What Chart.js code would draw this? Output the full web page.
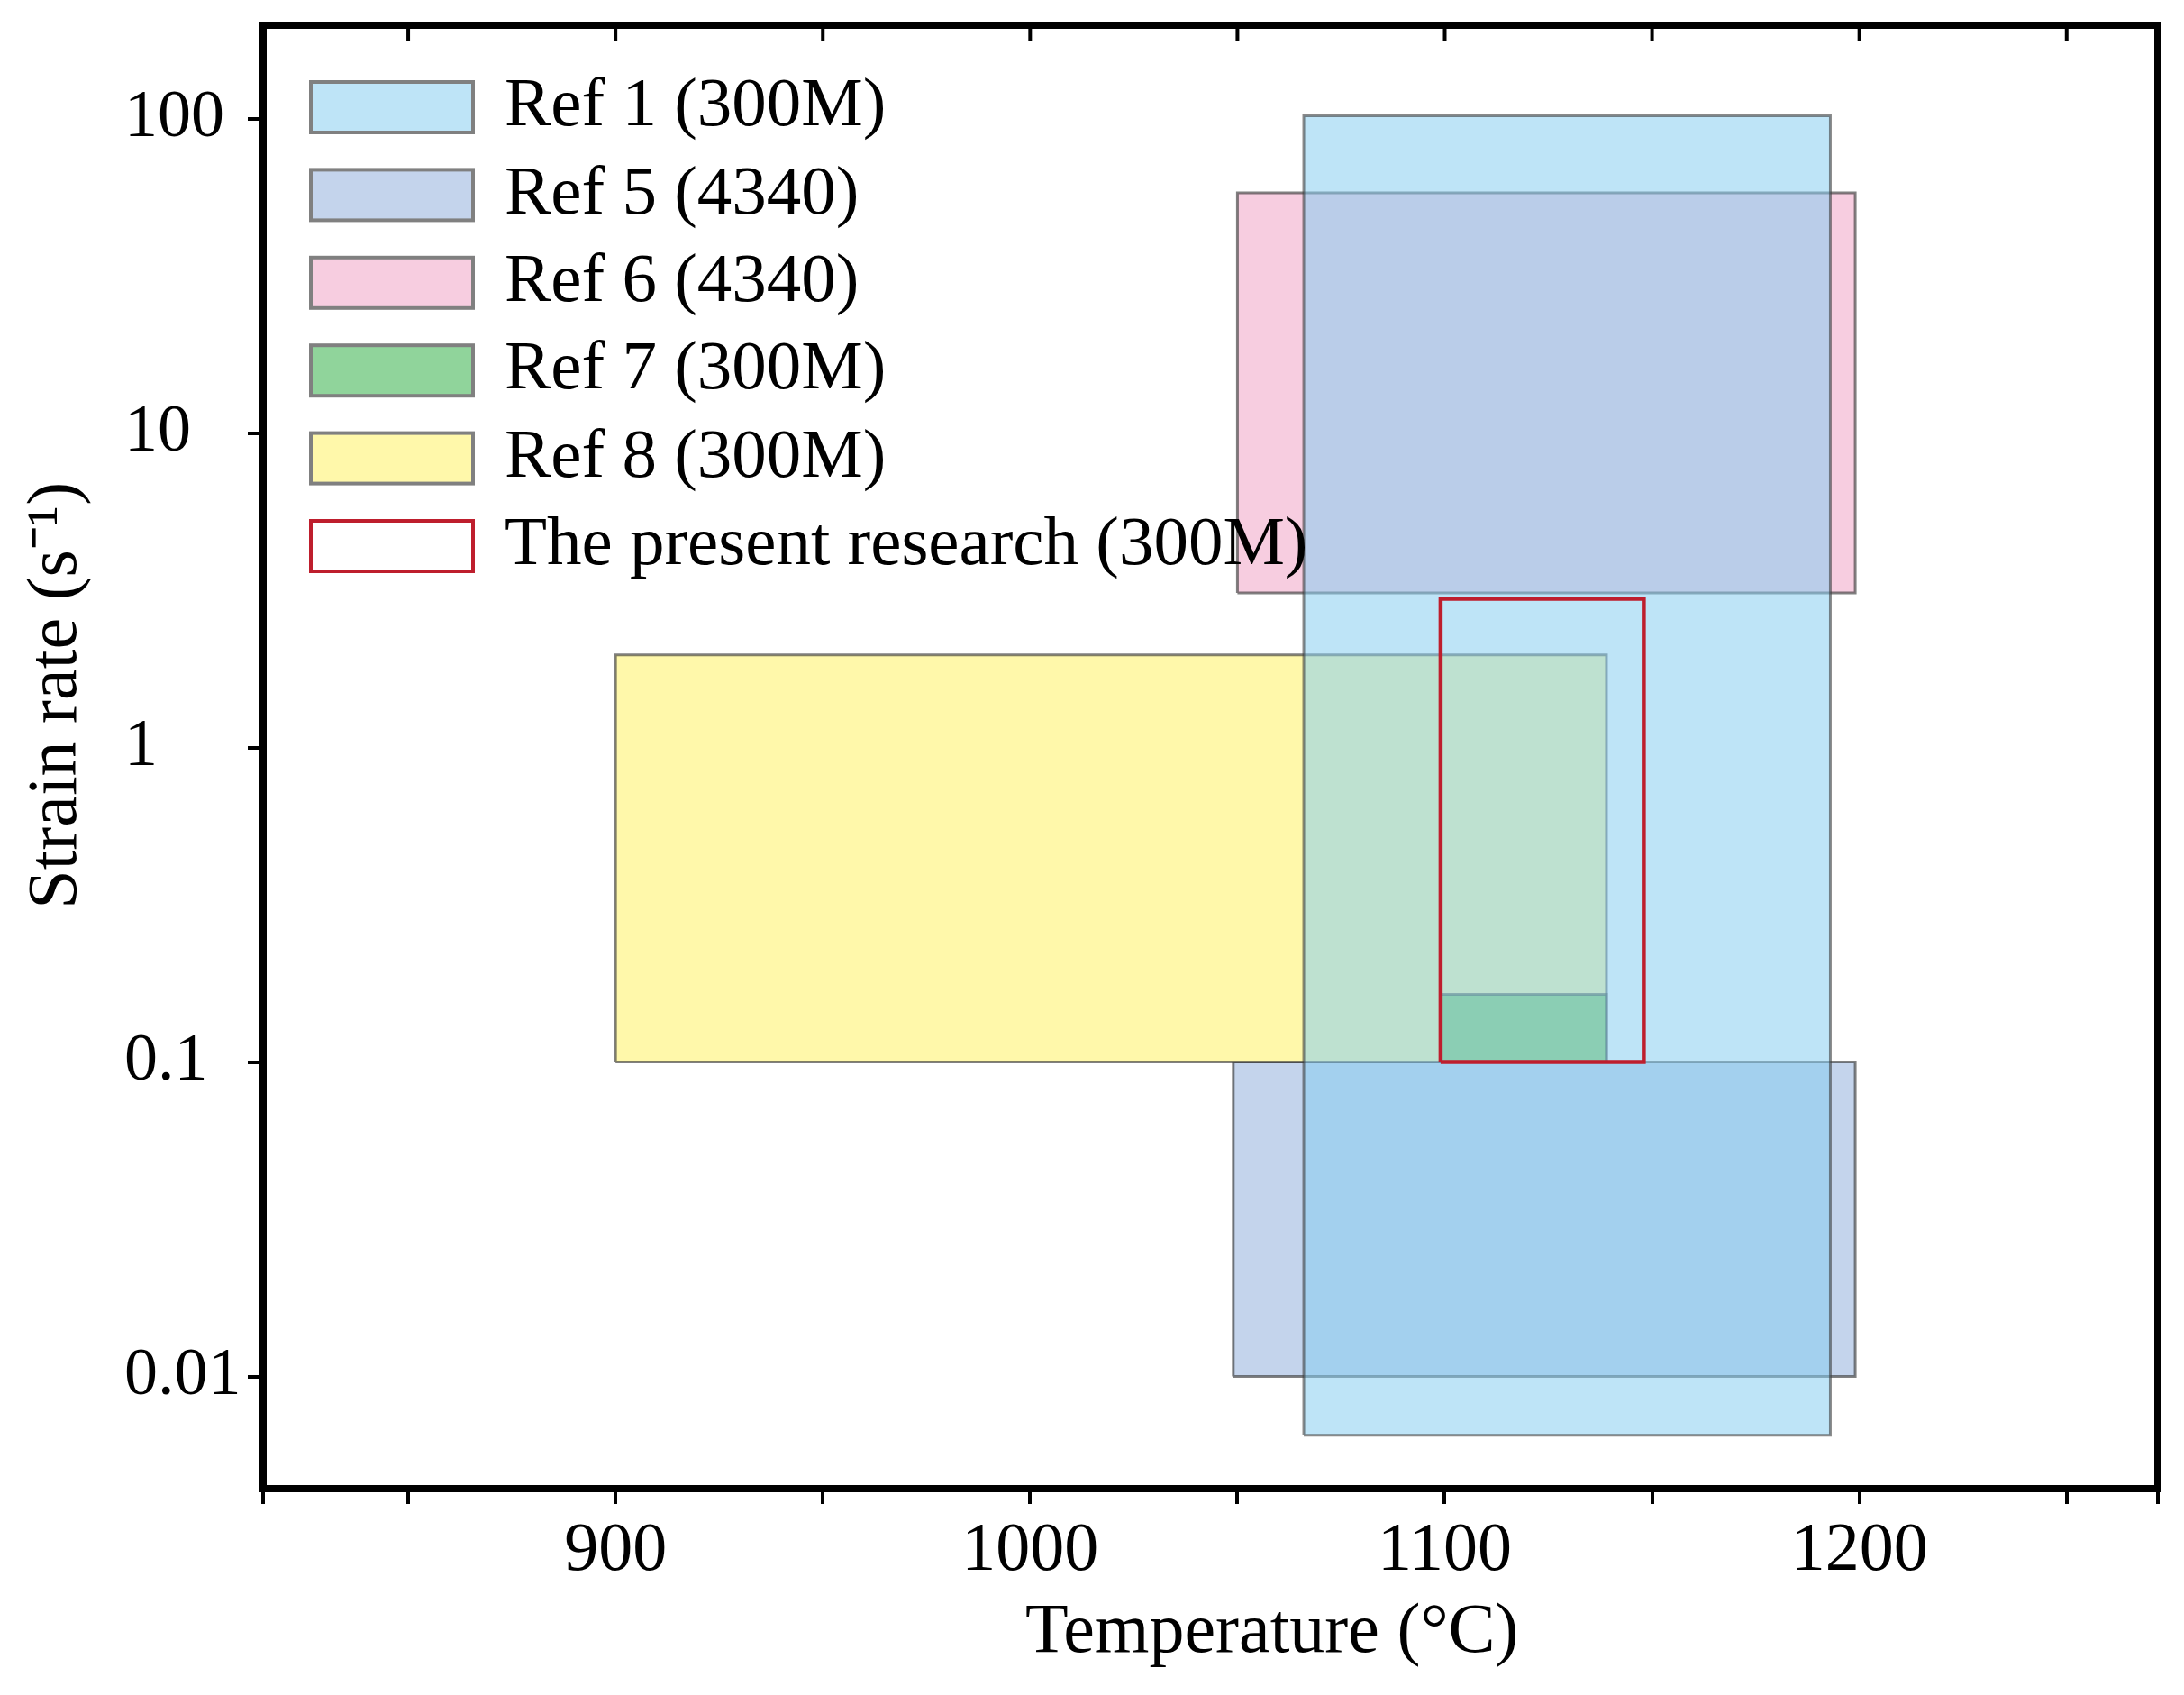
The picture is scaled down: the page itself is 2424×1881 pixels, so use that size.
<!DOCTYPE html>
<html>
<head>
<meta charset="utf-8">
<title>Processing windows: strain rate vs temperature</title>
<style>
    html, body {
        margin: 0;
        padding: 0;
        background: #fff;
        overflow: hidden;
    }
    #wrap {
        width: 2424px;
        height: 1881px;
    }
</style>
<script src="https://cdn.jsdelivr.net/npm/chart.js@4"></script>
</head>
<body>
<div id="wrap"><canvas id="rangeChart"></canvas></div>
<script>
    // Processing windows (temperature in °C, strain rate in 1/s)
    const seriesNames = ['Ref 1 (300M)', 'Ref 5 (4340)', 'Ref 6 (4340)', 'Ref 7 (300M)', 'Ref 8 (300M)', 'The present research (300M)'];
    const tempLow  = [1066, 1049, 1050, 1099, 900, 1099];
    const tempHigh = [1193, 1199, 1199, 1139, 1139, 1148];
    const rateLow  = [0.0065, 0.01, 3.1, 0.1, 0.1, 0.1];
    const rateHigh = [102, 0.1, 58, 0.164, 1.97, 2.97];

    const tempTicks  = [850, 900, 950, 1000, 1050, 1100, 1150, 1200, 1250];
    const tempLabels = [900, 1000, 1100, 1200];
    const rateTicks  = [0.01, 0.1, 1, 10, 100];
    const rateLabels = ['0.01', '0.1', '1', '10', '100'];

    // styles (kept apart from the data)
    const fills = ['rgba(135,205,240,0.54)', 'rgb(196,212,236)', 'rgb(247,205,224)',
                   'rgba(14,162,38,0.46)', 'rgb(255,248,170)', 'rgba(255,255,255,0)'];
    const edges = ['rgba(60,60,60,0.6)', 'rgba(60,60,60,0.65)', 'rgba(60,60,60,0.65)',
                   'rgba(60,60,60,0.6)', 'rgba(60,60,60,0.65)', '#be1e2d'];
    const layer = [2, 6, 5, 3, 4, 1];   // higher = drawn first
    const serif = '"Liberation Serif", "Times New Roman", serif';

    const datasets = seriesNames.map((name, i) => ({
        label: name,
        data: [
            {x: tempLow[i],  y: rateLow[i]},
            {x: tempHigh[i], y: rateLow[i]},
            {x: tempHigh[i], y: rateHigh[i]},
            {x: tempLow[i],  y: rateHigh[i]},
            {x: tempLow[i],  y: rateLow[i]}
        ],
        fill: i === 5 ? false : 'shape',
        backgroundColor: fills[i],
        borderColor: edges[i],
        borderWidth: i === 5 ? 4.5 : 3,
        borderJoinStyle: 'miter',
        pointRadius: 0,
        pointHoverRadius: 0,
        tension: 0,
        order: layer[i]
    }));

    // closed frame + inward ticks on the top edge
    const frame = {
        id: 'frame',
        afterDatasetsDraw(chart) {
            const {ctx, chartArea: a} = chart;
            const xs = chart.scales.x;
            ctx.save();
            ctx.strokeStyle = '#000';
            ctx.lineWidth = 8;
            ctx.strokeRect(a.left, a.top, a.right - a.left, a.bottom - a.top);
            ctx.lineWidth = 4;
            tempTicks.forEach(v => {
                const px = xs.getPixelForValue(v);
                ctx.beginPath();
                ctx.moveTo(px, a.top);
                ctx.lineTo(px, a.top + 18);
                ctx.stroke();
            });
            ctx.restore();
        }
    };

    // legend drawn inside the plot, top-left
    const boxLegend = {
        id: 'boxLegend',
        afterDatasetsDraw(chart) {
            const ctx = chart.ctx;
            ctx.save();
            ctx.font = '77px ' + serif;
            ctx.textBaseline = 'middle';
            chart.data.datasets.forEach((ds, i) => {
                const cy = 119 + i * 97.4;
                ctx.fillStyle = '#fff';
                ctx.fillRect(345, cy - 28, 180, 56);
                ctx.fillStyle = ds.backgroundColor;
                ctx.fillRect(345, cy - 28, 180, 56);
                ctx.lineWidth = 4;
                ctx.strokeStyle = i === 5 ? ds.borderColor : '#808080';
                ctx.strokeRect(345, cy - 28, 180, 56);
                ctx.fillStyle = '#000';
                ctx.fillText(ds.label, 560, cy);
            });
            ctx.restore();
        }
    };

    const ctx = document.getElementById('rangeChart').getContext('2d');
    const rangeChart = new Chart(ctx, {
        type: 'line',
        data: { datasets: datasets },
        plugins: [frame, boxLegend],
        options: {
            responsive: true,
            maintainAspectRatio: false,
            devicePixelRatio: 1,
            animation: false,
            layout: { padding: { top: 28, right: 29, left: 138, bottom: 0 } },
            plugins: {
                legend: { display: false },
                tooltip: { enabled: false }
            },
            scales: {
                x: {
                    type: 'linear',
                    min: 815,
                    max: 1272,
                    afterBuildTicks: s => {
                        s.ticks = [815].concat(tempTicks, [1272]).map(v => ({value: v}));
                    },
                    afterFit: s => {
                        s.height = 229;
                        s.paddingLeft = 0;
                        s.paddingRight = 0;
                    },
                    ticks: {
                        autoSkip: false,
                        maxRotation: 0,
                        padding: 7,
                        color: '#000',
                        font: { family: serif, size: 76 },
                        callback: v => tempLabels.includes(v) ? String(v) : ''
                    },
                    grid: {
                        drawOnChartArea: false,
                        tickLength: 17,
                        tickWidth: 4,
                        tickColor: '#000',
                        lineWidth: 4,
                        color: '#000'
                    },
                    border: { display: false },
                    title: {
                        display: true,
                        text: '\u00a0\u00a0\u00a0\u00a0\u00a0\u00a0\u00a0Temperature (°C)',
                        color: '#000',
                        font: { family: serif, size: 78 },
                        padding: { top: 0, bottom: 22 }
                    }
                },
                y: {
                    type: 'logarithmic',
                    min: 0.0044,
                    max: 198,
                    afterBuildTicks: s => {
                        s.ticks = rateTicks.map(v => ({value: v}));
                    },
                    afterFit: s => {
                        s.width = 154;
                        s.paddingTop = 0;
                        s.paddingBottom = 0;
                    },
                    ticks: {
                        crossAlign: 'far',
                        padding: 8,
                        color: '#000',
                        font: { family: serif, size: 74 },
                        callback: (v, i) => rateLabels[i]
                    },
                    grid: {
                        drawOnChartArea: false,
                        tickLength: 17,
                        tickWidth: 4,
                        tickColor: '#000',
                        lineWidth: 4,
                        color: '#000'
                    },
                    border: { display: false },
                    title: {
                        display: true,
                        text: '\u00a0\u00a0\u00a0\u00a0\u00a0\u00a0\u00a0Strain rate (s\u207b\u00b9)',
                        color: '#000',
                        font: { family: serif, size: 78 },
                        padding: { top: -121, bottom: 0 }
                    }
                }
            }
        }
    });
</script>
</body>
</html>
